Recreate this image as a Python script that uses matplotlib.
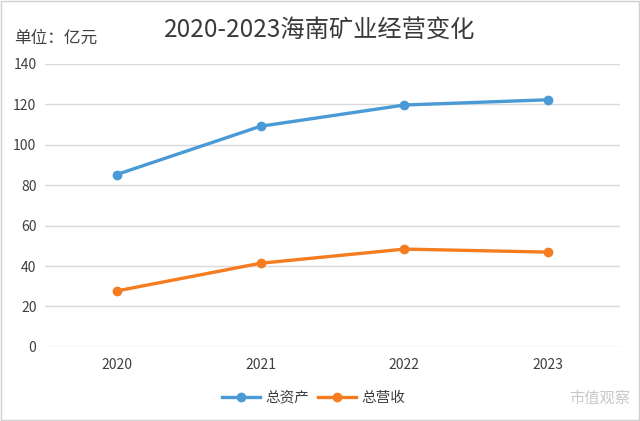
import matplotlib.pyplot as plt
from matplotlib.patches import Rectangle

plt.rcParams['font.family'] = ['Noto Sans CJK SC', 'DejaVu Sans']

years = ['2020', '2021', '2022', '2023']
total_assets = [85.3, 109.2, 119.7, 122.3]
total_revenue = [27.7, 41.4, 48.4, 46.9]
series_names = ['总资产', '总营收']

fig = plt.figure(figsize=(6.4, 4.21), dpi=100)
ax = fig.add_axes([0.07, 0.176, 0.899, 0.672])

x = range(len(years))
ax.plot(x, total_assets, color='#4a9ad6', lw=2.4, marker='o', ms=6, label=series_names[0])
ax.plot(x, total_revenue, color='#f57c1f', lw=2.4, marker='o', ms=6, label=series_names[1])

ax.set_xlim(-0.5, len(years) - 0.5)
ax.set_ylim(0, 140)
ax.set_yticks(range(0, 141, 20))
ax.set_xticks(list(x))
ax.set_xticklabels(years)
ax.grid(axis='y', color='#d9d9d9', lw=1)
ax.set_axisbelow(True)
for s in ax.spines.values():
    s.set_visible(False)
ax.tick_params(length=0, labelsize=10, colors='#404040', pad=8)
ax.tick_params(axis='y', pad=6)

fig.text(0.5, 0.93, '2020-2023海南矿业经营变化', ha='center', va='center',
         fontsize=17.5, color='#3a3a3a', fontweight='medium')
fig.text(0.022, 0.91, '单位：亿元', ha='left', va='center', fontsize=12, color='#404040')

fig.legend(loc='center', bbox_to_anchor=(0.49, 0.055), ncol=2, frameon=False,
           fontsize=10.5, handlelength=2.6, columnspacing=0.6, handletextpad=0.4,
           labelcolor='#404040')

fig.text(0.985, 0.055, '市值观察', ha='right', va='center', fontsize=11, color='#c8c8c8')

fig.patches.append(Rectangle((0.002, 0.002), 0.996, 0.996, transform=fig.transFigure,
                             fill=False, ec='#d0d0d0', lw=1))

fig.savefig('out.png', dpi=100)
